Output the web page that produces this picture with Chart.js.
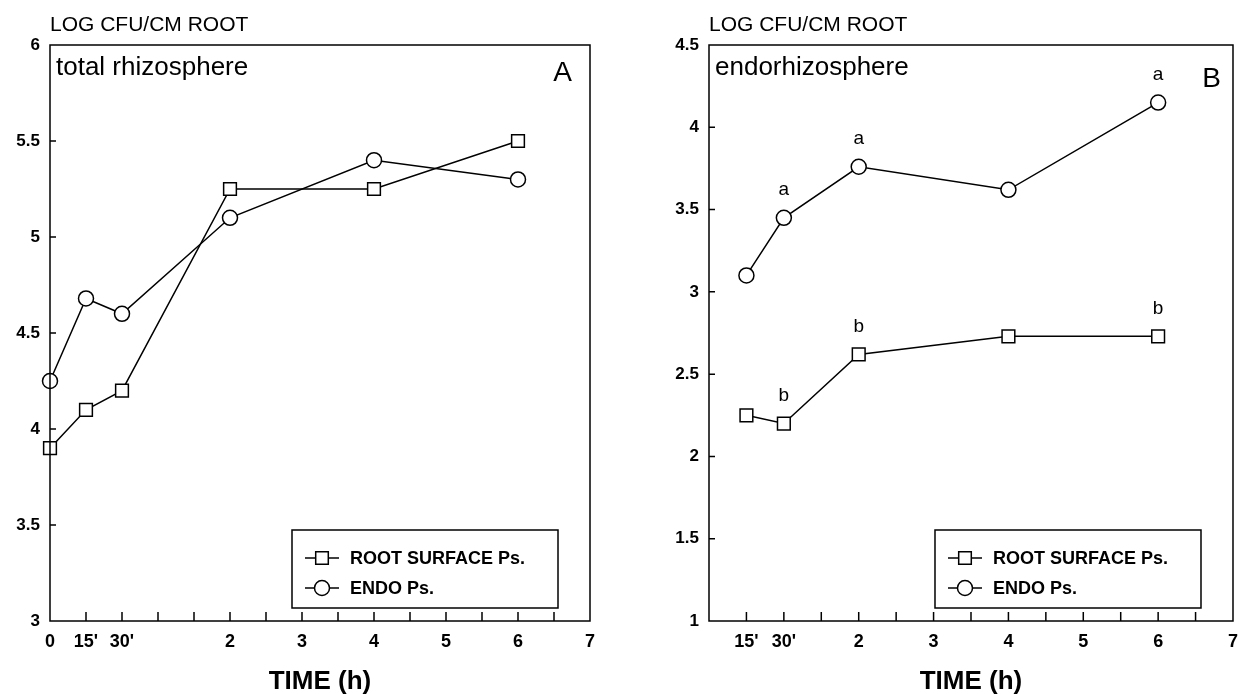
<!DOCTYPE html>
<html>
<head>
<meta charset="utf-8">
<script src="https://cdn.jsdelivr.net/npm/chart.js@4"></script>
<style>
  html, body { margin: 0; padding: 0; background: #fff; }
  #wrap { position: relative; width: 1248px; height: 694px; }
  .panel { position: absolute; top: 0; width: 624px; height: 694px; }
</style>
</head>
<body>
<div id="wrap">
  <div class="panel" style="left:0"><canvas id="chartA" width="624" height="694"></canvas></div>
  <div class="panel" style="left:624px"><canvas id="chartB" width="624" height="694"></canvas></div>
</div>
<script>
// panel A - total rhizosphere
// x slots: the time axis is drawn in half-unit slots (0, 15', 30' squeezed in front)
const slotsA = [0, 1, 2, 5, 9, 13]            // 0, 15', 30', 2h, 4h, 6h
const surfaceA = [3.9, 4.1, 4.2, 5.25, 5.25, 5.5]
const endoA = [4.25, 4.68, 4.6, 5.1, 5.4, 5.3]
const tickSlotsA = [0, 1, 2, 5, 7, 9, 11, 13, 15]
const tickLabelsA = ['0', "15'", "30'", '2', '3', '4', '5', '6', '7']

// panel B - endorhizosphere
const slotsB = [1, 2, 4, 8, 12]               // 15', 30', 2h, 4h, 6h
const surfaceB = [2.25, 2.2, 2.62, 2.73, 2.73]
const endoB = [3.1, 3.45, 3.76, 3.62, 4.15]
const surfaceLettersB = ['', 'b', 'b', '', 'b']
const endoLettersB = ['', 'a', 'a', '', 'a']
const tickSlotsB = [1, 2, 4, 6, 8, 10, 12, 14]
const tickLabelsB = ["15'", "30'", '2', '3', '4', '5', '6', '7']

const FONT = '"Liberation Sans", Arial, Helvetica, sans-serif'
const seriesNames = ['ROOT SURFACE Ps.', 'ENDO Ps.']

const toPoints = (xs, ys) => xs.map((x, i) => ({ x: x, y: ys[i] }))

const drawMarker = (ctx, style, x, y) => {
    ctx.beginPath()
    if (style === 'rect') {
        ctx.rect(x - 6.3, y - 6.3, 12.6, 12.6)
    } else {
        ctx.arc(x, y, 7.5, 0, Math.PI * 2)
    }
    ctx.fillStyle = '#fff'
    ctx.fill()
    ctx.stroke()
}

// frame, inner ticks, legend, texts and letters
const panelPlugin = {
    id: 'panel',
    afterDraw(chart, args, opts) {
        const ctx = chart.ctx
        const a = chart.chartArea
        const xs = chart.scales.x
        const ys = chart.scales.y
        ctx.save()
        ctx.strokeStyle = '#000'
        ctx.fillStyle = '#000'
        ctx.lineWidth = 1.5
        ctx.strokeRect(a.left, a.top, a.right - a.left, a.bottom - a.top)

        // inward ticks
        ctx.beginPath()
        for (let v = xs.min + 1; v < xs.max; v++) {
            const px = xs.getPixelForValue(v)
            ctx.moveTo(px, a.bottom)
            ctx.lineTo(px, a.bottom - 9)
        }
        ys.ticks.forEach(t => {
            if (t.value === ys.min || t.value === ys.max) return
            const py = ys.getPixelForValue(t.value)
            ctx.moveTo(a.left, py)
            ctx.lineTo(a.left + 6, py)
        })
        ctx.stroke()

        // axis texts
        ctx.textBaseline = 'alphabetic'
        ctx.textAlign = 'left'
        ctx.font = '21px ' + FONT
        ctx.fillText('LOG CFU/CM ROOT', a.left, 31)
        ctx.font = 'bold 26px ' + FONT
        ctx.textAlign = 'center'
        ctx.fillText('TIME (h)', (a.left + a.right) / 2, 689)

        // panel name and letter
        ctx.textAlign = 'left'
        ctx.font = '26px ' + FONT
        ctx.fillText(opts.name, a.left + 6, a.top + 30)
        ctx.textAlign = 'right'
        ctx.font = '28px ' + FONT
        ctx.fillText(opts.letter, a.right - opts.letterGap, a.top + opts.letterDrop)

        // legend box
        const lr = a.right - 32
        const ll = lr - 266
        const lt = a.bottom - 91
        const lb = a.bottom - 13
        ctx.fillStyle = '#fff'
        ctx.fillRect(ll, lt, lr - ll, lb - lt)
        ctx.strokeRect(ll, lt, lr - ll, lb - lt)
        ctx.font = 'bold 18px ' + FONT
        ctx.textAlign = 'left'
        ctx.textBaseline = 'middle'
        const styles = ['rect', 'circle']
        seriesNames.forEach((name, i) => {
            const ry = lt + 28 + i * 30
            ctx.beginPath()
            ctx.moveTo(ll + 13, ry)
            ctx.lineTo(ll + 47, ry)
            ctx.stroke()
            drawMarker(ctx, styles[i], ll + 30, ry)
            ctx.fillStyle = '#000'
            ctx.fillText(name, ll + 58, ry + 1)
        })

        // significance letters
        if (opts.letters) {
            ctx.font = '19px ' + FONT
            ctx.textAlign = 'center'
            ctx.textBaseline = 'middle'
            opts.letters.forEach((list, di) => {
                const meta = chart.getDatasetMeta(di)
                list.forEach((txt, j) => {
                    if (!txt) return
                    const el = meta.data[j]
                    ctx.fillText(txt, el.x, el.y - 28)
                })
            })
        }
        ctx.restore()
    }
}

const makeChart = (id, cfg) => {
    const ctx = document.getElementById(id).getContext('2d')
    return new Chart(ctx, {
        type: 'line',
        data: {
            datasets: [{
                label: seriesNames[0],
                data: toPoints(cfg.slots, cfg.surface),
                pointStyle: 'rect',
                pointRadius: 9,
                borderColor: '#000',
                backgroundColor: '#fff',
                pointBorderWidth: 1.5,
                borderWidth: 1.5,
                clip: false
            }, {
                label: seriesNames[1],
                data: toPoints(cfg.slots, cfg.endo),
                pointStyle: 'circle',
                pointRadius: 7.5,
                borderColor: '#000',
                backgroundColor: '#fff',
                pointBorderWidth: 1.5,
                borderWidth: 1.5,
                clip: false
            }]
        },
        options: {
            responsive: false,
            animation: false,
            layout: { padding: { left: 0, top: 45, right: cfg.padRight, bottom: 0 } },
            plugins: {
                legend: { display: false },
                tooltip: { enabled: false },
                panel: { name: cfg.name, letter: cfg.letter, letterGap: cfg.letterGap, letterDrop: cfg.letterDrop, letters: cfg.letters }
            },
            scales: {
                x: {
                    type: 'linear',
                    min: cfg.xmin,
                    max: cfg.xmax,
                    afterFit: s => { s.height = 73 },
                    afterBuildTicks: s => { s.ticks = cfg.tickSlots.map(v => ({ value: v })) },
                    grid: { display: false, drawTicks: false },
                    border: { display: false },
                    ticks: {
                        autoSkip: false,
                        maxRotation: 0,
                        padding: 10,
                        color: '#000',
                        font: { family: FONT, size: 18, weight: 'bold' },
                        callback: v => cfg.tickLabels[cfg.tickSlots.indexOf(v)]
                    }
                },
                y: {
                    min: cfg.ymin,
                    max: cfg.ymax,
                    afterFit: s => { s.width = cfg.yWidth },
                    grid: { display: false, drawTicks: false },
                    border: { display: false },
                    ticks: {
                        stepSize: 0.5,
                        padding: 10,
                        color: '#000',
                        font: { family: FONT, size: 17, weight: 'bold' },
                        callback: v => String(Math.round(v * 10) / 10)
                    }
                }
            }
        },
        plugins: [panelPlugin]
    })
}

makeChart('chartA', {
    slots: slotsA, surface: surfaceA, endo: endoA,
    tickSlots: tickSlotsA, tickLabels: tickLabelsA,
    xmin: 0, xmax: 15, ymin: 3, ymax: 6,
    yWidth: 50, padRight: 34,
    name: 'total rhizosphere', letter: 'A', letterGap: 18, letterDrop: 36
})
makeChart('chartB', {
    slots: slotsB, surface: surfaceB, endo: endoB,
    tickSlots: tickSlotsB, tickLabels: tickLabelsB,
    xmin: 0, xmax: 14, ymin: 1, ymax: 4.5,
    yWidth: 85, padRight: 11,
    name: 'endorhizosphere', letter: 'B', letterGap: 12, letterDrop: 42,
    letters: [surfaceLettersB, endoLettersB]
})
</script>
</body>
</html>
